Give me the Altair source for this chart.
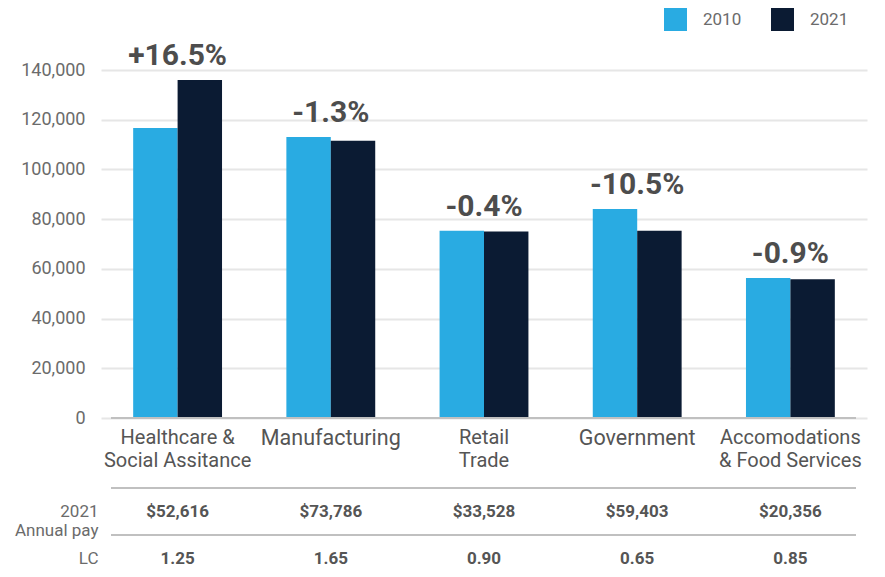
import altair as alt
import pandas as pd

categories = ["Healthcare &|Social Assitance", "Manufacturing", "Retail|Trade",
              "Government", "Accomodations|& Food Services"]
years = ["2010", "2021"]
v2010 = [116700, 113000, 75300, 84100, 56300]
v2021 = [136000, 111500, 75000, 75300, 55800]
pct_labels = ["+16.5%", "-1.3%", "-0.4%", "-10.5%", "-0.9%"]
annual_pay = ["$52,616", "$73,786", "$33,528", "$59,403", "$20,356"]
lc_values = ["1.25", "1.65", "0.90", "0.65", "0.85"]
row_keys = ["pay", "lc"]

FONT = "Roboto"
LIGHT = "#29ABE2"
DARK = "#0B1B33"

bars_df = pd.DataFrame({
    "cat": categories * 2,
    "year": [years[0]] * len(categories) + [years[1]] * len(categories),
    "value": v2010 + v2021,
})
lab_df = pd.DataFrame({
    "cat": categories,
    "top": [max(a, b) for a, b in zip(v2010, v2021)],
    "pct": pct_labels,
})
table_df = pd.DataFrame({
    "cat": categories * 2,
    "row": [row_keys[0]] * len(categories) + [row_keys[1]] * len(categories),
    "val": annual_pay + lc_values,
})
rows_df = pd.DataFrame({"row": row_keys})


def xscale():
    return alt.Scale(domain=categories, range=[-10, 756], paddingInner=0.42, paddingOuter=0.21)


x_top = alt.X(
    "cat:N", scale=xscale(),
    axis=alt.Axis(title=None, labelAngle=0, labelExpr="split(datum.label, '|')",
                  labelFontSize={"condition": {"test": "indexof(datum.value, '|') < 0", "value": 21.5},
                                 "value": 20},
                  labelColor="#555555", labelFont=FONT,
                  domain=False, ticks=False,
                  labelPadding=9, labelLineHeight=23),
)

bars = alt.Chart(bars_df).mark_bar().encode(
    x=x_top,
    xOffset=alt.XOffset("year:N", sort=years, scale=alt.Scale(paddingInner=0, paddingOuter=0)),
    y=alt.Y("value:Q", scale=alt.Scale(domain=[0, 140000]),
            axis=alt.Axis(title=None, values=list(range(0, 140001, 20000)), format=",.0f",
                          domain=False, ticks=False, gridColor="#e6e6e6", gridWidth=2,
                          labelFontSize=18, labelColor="#6b6b6b", labelPadding=26,
                          labelFont=FONT)),
    color=alt.Color("year:N", scale=alt.Scale(domain=years, range=[LIGHT, DARK]),
                    legend=alt.Legend(title=None, orient="none", legendX=553, legendY=-62,
                                      direction="horizontal", symbolType="square",
                                      symbolSize=529, symbolStrokeWidth=0, padding=0,
                                      labelFontSize=17, labelColor="#6b6b6b",
                                      labelFont=FONT, labelOffset=16, columnPadding=29)),
)

baseline = alt.Chart(rows_df).mark_rule(color="#c0c0c0", strokeWidth=2).encode(
    y=alt.datum(0),
)

pct = alt.Chart(lab_df).mark_text(
    fontSize=30, fontWeight="bold", color="#4d4d4d", font=FONT,
    baseline="alphabetic", dy=-15,
).encode(
    x=alt.X("cat:N", scale=xscale()),
    y=alt.Y("top:Q"),
    text="pct:N",
)

top = alt.layer(bars, baseline, pct).properties(width=745, height=348)

row_axis = alt.Axis(title=None, domain=False, ticks=False, grid=False,
                    labelOffset=7.5,
                    labelExpr="datum.value == 'pay' ? ['2021', 'Annual pay'] : 'LC'",
                    labelFontSize=17, labelColor="#6b6b6b", labelPadding=13,
                    labelFont=FONT, labelLineHeight=19)
row_scale = alt.Scale(domain=row_keys, paddingInner=0.3, paddingOuter=0)

rules = alt.Chart(rows_df).mark_rule(color="#c0c0c0", strokeWidth=2).encode(
    y=alt.Y("row:N", bandPosition=0, scale=row_scale, axis=row_axis),
)
texts = alt.Chart(table_df).mark_text(
    fontSize=17, fontWeight="bold", color="#555555", font=FONT, dy=24,
).encode(
    x=alt.X("cat:N", scale=xscale(), axis=None),
    y=alt.Y("row:N", bandPosition=0, scale=row_scale, axis=row_axis),
    text="val:N",
)
table = alt.layer(rules, texts).properties(width=745, height=80)

chart = alt.vconcat(top, table, spacing=17).configure_view(stroke=None).properties(
    padding={"left": 6, "top": 0, "right": 0, "bottom": 0}
)

chart.save("out.html", embed_options={"renderer": "svg", "actions": False})
